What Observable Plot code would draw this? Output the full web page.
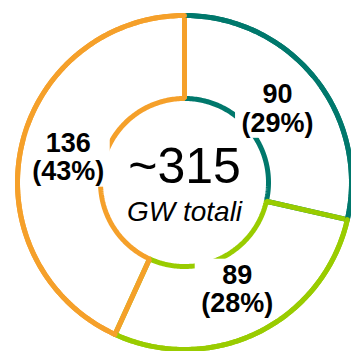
<!DOCTYPE html>
<html><head><meta charset="utf-8">
<script src="https://cdn.jsdelivr.net/npm/d3@7"></script>
<script src="https://cdn.jsdelivr.net/npm/@observablehq/plot@0.6"></script>
<style>body{margin:0;background:#fff}</style>
</head><body><div id="chart"></div>
<script>
const categories = ["A", "B", "C"];
const values = [90, 89, 136];
const shares = ["29%", "28%", "43%"];
const colors = ["#00786C", "#99CC00", "#F5A02A"];
const totalLabel = "~315";
const unitLabel = "GW totali";

const R_OUT = 167, R_IN = 84, R_LABEL = 119;
const pie = d3.pie().sort(null).value(d => d)(values);
const ring = [];
const outer = [];
pie.forEach((s, i) => {
  const n = Math.max(2, Math.ceil((s.endAngle - s.startAngle) / (Math.PI / 180)));
  for (let k = 0; k <= n; k++) {
    const a = s.startAngle + (s.endAngle - s.startAngle) * k / n;
    const p = {cat: categories[i], x: R_OUT * Math.sin(a), y: R_OUT * Math.cos(a)};
    ring.push(p);
    outer.push(p);
  }
  for (let k = n; k >= 0; k--) {
    const a = s.startAngle + (s.endAngle - s.startAngle) * k / n;
    ring.push({cat: categories[i], x: R_IN * Math.sin(a), y: R_IN * Math.cos(a)});
  }
});
const labels = pie.map((s, i) => {
  const a = (s.startAngle + s.endAngle) / 2;
  return {text: `${values[i]}\n(${shares[i]})`, x: R_LABEL * Math.sin(a), y: R_LABEL * Math.cos(a)};
});

const chart = Plot.plot({
  width: 351, height: 351, margin: 0,
  x: {domain: [-184, 167], axis: null},
  y: {domain: [-169, 182], axis: null},
  color: {domain: categories, range: colors},
  style: {fontFamily: "'Liberation Sans', Arial, sans-serif", background: "white"},
  marks: [
    Plot.line(ring, {x: "x", y: "y", z: "cat", stroke: "cat", strokeWidth: 5, curve: "linear-closed", strokeLinejoin: "miter"}),
    Plot.rect(labels, {x1: d => d.x - 42, x2: d => d.x + 42, y1: d => d.y - 30, y2: d => d.y + 30, fill: "white"}),
    Plot.line(outer, {x: "x", y: "y", z: "cat", stroke: "cat", strokeWidth: 5}),
    Plot.text(labels, {x: "x", y: "y", text: "text", fontSize: 27, fontWeight: "bold", lineHeight: 1.05, fill: "black"}),
    Plot.text([totalLabel], {x: () => 0, y: () => 0, text: d => d, fontSize: 50, lineAnchor: "bottom", fill: "black"}),
    Plot.text([unitLabel], {x: () => 0, y: () => -38, text: d => d, fontSize: 28, fontStyle: "italic", lineAnchor: "bottom", fill: "black"})
  ]
});
document.getElementById("chart").appendChild(chart);
</script>
</body></html>
